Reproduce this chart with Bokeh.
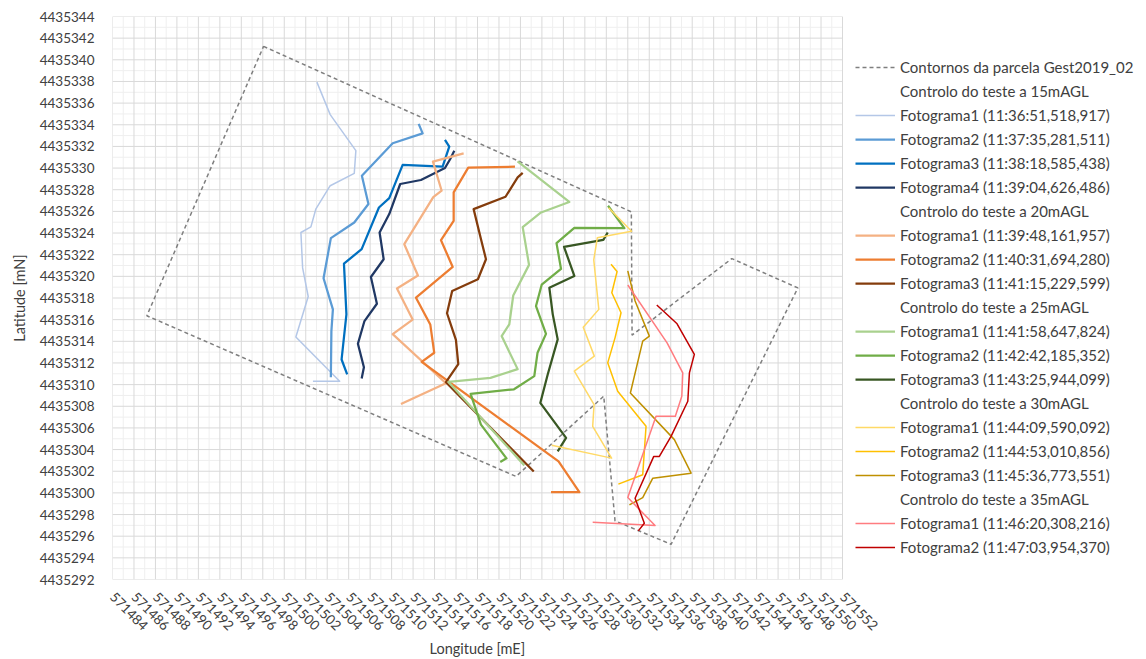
import math
from bokeh.plotting import figure
from bokeh.models import (Range1d, FixedTicker, NumeralTickFormatter, Legend, LegendItem, Title)
from bokeh.embed import file_html
from bokeh.resources import INLINE

# ---------------- data ----------------
boundary_x = [571498.07, 571532.33, 571532.40, 571541.69, 571547.84, 571536.03, 571530.81, 571529.76, 571521.59, 571487.20, 571498.07]
boundary_y = [4435341.24, 4435325.96, 4435314.57, 4435321.64, 4435318.93, 4435295.25, 4435297.42, 4435308.93, 4435301.52, 4435316.36, 4435341.24]

s15_1_x = [571503.04, 571504.28, 571506.67, 571506.52, 571504.28, 571502.95, 571502.48, 571501.55, 571501.71, 571502.23, 571501.08, 571505.16, 571502.67]
s15_1_y = [4435337.94, 4435334.94, 4435331.61, 4435329.51, 4435328.37, 4435326.24, 4435324.57, 4435324.05, 4435320.78, 4435318.14, 4435314.39, 4435310.31, 4435310.31]
s15_2_x = [571512.52, 571512.89, 571510.10, 571507.23, 571507.84, 571506.52, 571504.34, 571503.66, 571504.53, 571504.39, 571504.34]
s15_2_y = [4435334.08, 4435333.21, 4435332.29, 4435329.30, 4435326.68, 4435324.97, 4435323.53, 4435319.82, 4435316.95, 4435314.94, 4435310.69]
s15_3_x = [571514.97, 571515.37, 571514.75, 571511.03, 571509.78, 571508.82, 571507.21, 571505.56, 571505.79, 571505.34, 571505.86]
s15_3_y = [4435332.60, 4435331.98, 4435330.13, 4435330.29, 4435327.23, 4435326.36, 4435322.51, 4435321.18, 4435316.49, 4435312.32, 4435310.94]
s15_4_x = [571515.84, 571515.46, 571514.97, 571512.73, 571510.80, 571509.78, 571508.88, 571509.26, 571508.07, 571508.63, 571507.47, 571506.86, 571507.42, 571507.21]
s15_4_y = [4435331.61, 4435330.84, 4435330.01, 4435328.90, 4435328.53, 4435325.75, 4435324.05, 4435321.58, 4435319.94, 4435317.47, 4435315.87, 4435313.77, 4435311.61, 4435310.56]

s20_1_x = [571516.71, 571513.85, 571514.66, 571513.88, 571511.18, 571512.45, 571510.50, 571511.96, 571510.10, 571515.06, 571510.87]
s20_1_y = [4435331.36, 4435330.59, 4435327.91, 4435327.32, 4435322.97, 4435320.08, 4435318.88, 4435316.01, 4435314.67, 4435310.13, 4435308.21]
s20_2_x = [571521.49, 571517.14, 571515.78, 571515.78, 571514.60, 571515.69, 571512.27, 571513.60, 571513.97, 571512.80, 571525.55, 571527.49, 571524.85]
s20_2_y = [4435330.13, 4435330.04, 4435327.75, 4435325.13, 4435323.34, 4435320.87, 4435318.03, 4435315.56, 4435312.94, 4435312.10, 4435302.91, 4435300.06, 4435300.06]
s20_3_x = [571522.21, 571521.74, 571520.61, 571517.64, 571518.32, 571518.79, 571518.04, 571515.64, 571515.16, 571515.99, 571516.21, 571515.06, 571523.24]
s20_3_y = [4435329.56, 4435329.14, 4435327.35, 4435326.21, 4435323.44, 4435321.58, 4435319.73, 4435318.65, 4435316.59, 4435314.13, 4435311.89, 4435310.22, 4435301.98]

s25_1_x = [571521.73, 571526.55, 571523.92, 571522.21, 571522.80, 571521.33, 571520.96, 571520.25, 571521.74, 571519.21, 571515.30, 571522.36]
s25_1_y = [4435330.62, 4435326.87, 4435325.90, 4435324.55, 4435321.06, 4435318.23, 4435315.56, 4435314.48, 4435311.43, 4435310.62, 4435310.25, 4435302.54]
s25_2_x = [571530.16, 571531.68, 571527.02, 571525.36, 571525.78, 571523.98, 571523.45, 571524.38, 571523.59, 571523.29, 571521.40, 571517.36, 571518.32, 571520.70, 571520.12]
s25_2_y = [4435326.52, 4435324.45, 4435324.48, 4435323.07, 4435320.69, 4435319.23, 4435317.26, 4435314.69, 4435312.94, 4435310.78, 4435309.57, 4435309.14, 4435306.31, 4435303.19, 4435302.86]
s25_3_x = [571530.13, 571529.72, 571526.06, 571527.02, 571524.69, 571525.01, 571525.47, 571524.54, 571523.85, 571526.25, 571525.47]
s25_3_y = [4435324.05, 4435323.37, 4435322.72, 4435320.04, 4435318.95, 4435316.49, 4435314.18, 4435310.94, 4435308.31, 4435305.08, 4435303.83]

s30_1_x = [571530.21, 571532.35, 571529.16, 571528.83, 571529.30, 571527.85, 571528.88, 571527.02, 571528.86, 571528.73, 571530.49, 571524.91]
s30_1_y = [4435326.33, 4435324.16, 4435323.56, 4435321.52, 4435316.95, 4435315.29, 4435312.63, 4435311.24, 4435308.16, 4435306.15, 4435303.21, 4435304.39]
s30_2_x = [571530.44, 571531.00, 571530.51, 571531.37, 571530.81, 571530.13, 571531.06, 571533.70, 571533.39, 571531.12]
s30_2_y = [4435321.12, 4435320.44, 4435318.49, 4435316.64, 4435314.32, 4435312.01, 4435309.39, 4435306.15, 4435301.68, 4435300.81]
s30_3_x = [571532.00, 571532.68, 571534.01, 571533.39, 571532.24, 571536.34, 571537.90, 571534.33, 571533.39, 571532.15]
s30_3_y = [4435320.50, 4435317.72, 4435314.48, 4435314.02, 4435309.23, 4435304.92, 4435301.82, 4435301.36, 4435299.57, 4435298.90]

s35_1_x = [571532.00, 571535.66, 571537.12, 571537.03, 571536.43, 571534.63, 571532.00, 571534.54, 571528.73]
s35_1_y = [4435319.20, 4435313.86, 4435311.08, 4435308.93, 4435307.07, 4435307.07, 4435299.57, 4435296.98, 4435297.29]
s35_2_x = [571534.70, 571536.59, 571538.20, 571537.74, 571537.59, 571536.03, 571534.94, 571534.42, 571532.68, 571533.54, 571532.98]
s35_2_y = [4435317.35, 4435315.62, 4435312.79, 4435311.08, 4435308.46, 4435305.22, 4435303.37, 4435303.37, 4435299.51, 4435297.19, 4435296.49]

x_ticks = list(range(571484, 571553, 2))
y_ticks = list(range(4435292, 4435345, 2))

boundary_label = "Contornos da parcela Gest2019_02"
groups = [
    ("Controlo do teste a 15mAGL", [
        ("Fotograma1 (11:36:51,518,917)", s15_1_x, s15_1_y, "#b4c7e7", 1.5),
        ("Fotograma2 (11:37:35,281,511)", s15_2_x, s15_2_y, "#5b9bd5", 2.25),
        ("Fotograma3 (11:38:18,585,438)", s15_3_x, s15_3_y, "#0070c0", 2.25),
        ("Fotograma4 (11:39:04,626,486)", s15_4_x, s15_4_y, "#203864", 2.25),
    ]),
    ("Controlo do teste a 20mAGL", [
        ("Fotograma1 (11:39:48,161,957)", s20_1_x, s20_1_y, "#f4b183", 2.25),
        ("Fotograma2 (11:40:31,694,280)", s20_2_x, s20_2_y, "#ed7d31", 2.25),
        ("Fotograma3 (11:41:15,229,599)", s20_3_x, s20_3_y, "#843c0c", 2.25),
    ]),
    ("Controlo do teste a 25mAGL", [
        ("Fotograma1 (11:41:58,647,824)", s25_1_x, s25_1_y, "#a9d18e", 2.25),
        ("Fotograma2 (11:42:42,185,352)", s25_2_x, s25_2_y, "#70ad47", 2.25),
        ("Fotograma3 (11:43:25,944,099)", s25_3_x, s25_3_y, "#385723", 2.25),
    ]),
    ("Controlo do teste a 30mAGL", [
        ("Fotograma1 (11:44:09,590,092)", s30_1_x, s30_1_y, "#ffd966", 1.5),
        ("Fotograma2 (11:44:53,010,856)", s30_2_x, s30_2_y, "#ffc000", 1.5),
        ("Fotograma3 (11:45:36,773,551)", s30_3_x, s30_3_y, "#bf9000", 1.5),
    ]),
    ("Controlo do teste a 35mAGL", [
        ("Fotograma1 (11:46:20,308,216)", s35_1_x, s35_1_y, "#ff7c80", 1.5),
        ("Fotograma2 (11:47:03,954,370)", s35_2_x, s35_2_y, "#c00000", 1.5),
    ]),
]

FONT = "Lato"
TXT = "#404040"

W, H = 1146, 659
LEFT, TOP, BOTTOM = 112, 16, 80
DATA_W = 730                      # pixel width of the gridded data area
FRAME_W = W - LEFT                # frame extends to the right edge (legend lives inside it)
x0, x1 = x_ticks[0], x_ticks[-1]
x_end = x0 + (x1 - x0) * FRAME_W / DATA_W

p = figure(width=W, height=H, output_backend="svg", toolbar_location=None,
           x_range=Range1d(x0, x_end), y_range=Range1d(y_ticks[0], y_ticks[-1]),
           min_border_left=LEFT, min_border_right=0, min_border_top=TOP, min_border_bottom=BOTTOM)
p.background_fill_color = "white"
p.border_fill_color = "white"
p.outline_line_color = None
p.xgrid.grid_line_color = None
p.ygrid.grid_line_color = None

p.xaxis.ticker = FixedTicker(ticks=x_ticks)
p.yaxis.ticker = FixedTicker(ticks=y_ticks)
for ax in (p.xaxis, p.yaxis):
    ax.formatter = NumeralTickFormatter(format="0")
    ax.axis_line_color = None
    ax.major_tick_line_color = None
    ax.minor_tick_line_color = None
    ax.major_tick_out = 0
    ax.minor_tick_out = 0
    ax.major_label_text_font = FONT
    ax.major_label_text_font_size = "13.5px"
    ax.major_label_text_color = TXT
    ax.axis_label_text_font = FONT
    ax.axis_label_text_font_size = "14.5px"
    ax.axis_label_text_color = TXT
    ax.axis_label_text_font_style = "normal"

p.xaxis.major_label_orientation = -math.pi / 4
p.xaxis.major_label_standoff = 15
p.yaxis.major_label_standoff = 18
p.yaxis.axis_label_standoff = 9
p.yaxis.axis_label = "Latitude [mN]"

# x-axis title, centred under the gridded data area
xtitle = Title(text="Longitude [mE]", align="left", offset=317, standoff=0,
               text_font=FONT, text_font_size="14.5px", text_font_style="normal",
               text_color=TXT)
p.add_layout(xtitle, "below")

# grid restricted to the data area (minor every 1 m, major every 2 m)
ylo, yhi = y_ticks[0], y_ticks[-1]
minor_x = [v for v in range(x0, x1 + 1) if v not in x_ticks]
minor_y = [v for v in range(ylo, yhi + 1) if v not in y_ticks]
p.segment(x0=minor_x, y0=[ylo] * len(minor_x), x1=minor_x, y1=[yhi] * len(minor_x), line_color="#efefef", line_width=1)
p.segment(x0=[x0] * len(minor_y), y0=minor_y, x1=[x1] * len(minor_y), y1=minor_y, line_color="#efefef", line_width=1)
p.segment(x0=x_ticks, y0=[ylo] * len(x_ticks), x1=x_ticks, y1=[yhi] * len(x_ticks), line_color="#d9d9d9", line_width=1)
p.segment(x0=[x0] * len(y_ticks), y0=y_ticks, x1=[x1] * len(y_ticks), y1=y_ticks, line_color="#d9d9d9", line_width=1)

items = []
rb = p.line(boundary_x, boundary_y, line_color="#7f7f7f", line_width=1.5, line_dash="4 3")
items.append(LegendItem(label=boundary_label, renderers=[rb]))
for header, series in groups:
    rh = p.line([], [], line_alpha=0)
    items.append(LegendItem(label=header, renderers=[rh]))
    for label, xs, ys, col, lw in series:
        r = p.line(xs, ys, line_color=col, line_width=lw, line_join="round")
        items.append(LegendItem(label=label, renderers=[r]))

legend = Legend(items=items, location=(DATA_W + 13, 23), orientation="vertical")
legend.border_line_color = None
legend.background_fill_alpha = 0
legend.label_text_font = FONT
legend.label_text_font_size = "15px"
legend.label_text_color = TXT
legend.glyph_width = 40
legend.glyph_height = 18
legend.label_height = 18
legend.spacing = 6
legend.label_standoff = 5
legend.padding = 0
legend.margin = 0
p.add_layout(legend, "center")

open("out.html", "w").write(file_html(p, INLINE))
